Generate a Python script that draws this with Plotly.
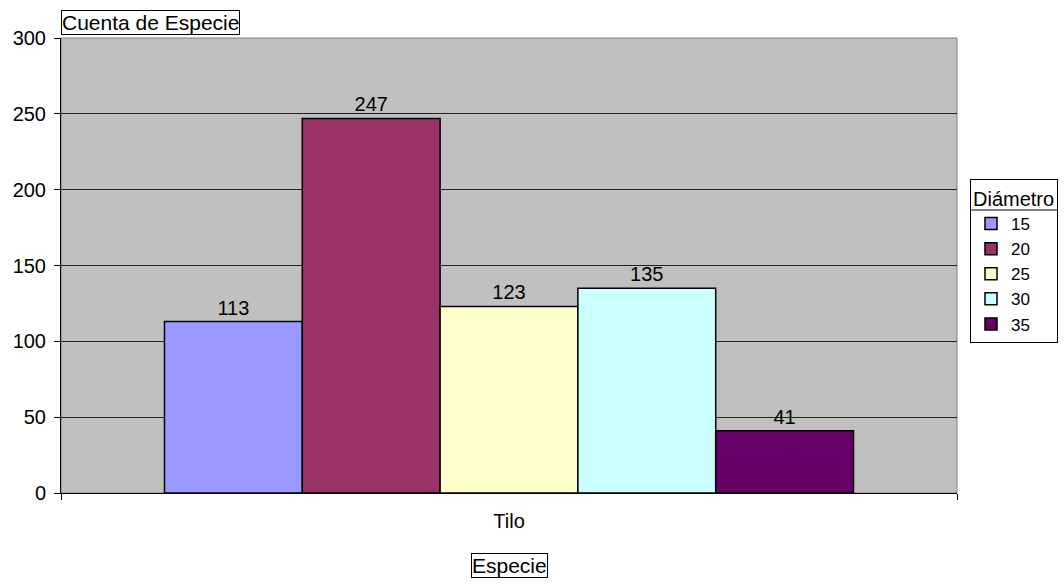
import plotly.graph_objects as go

categories = ["Tilo"]
series_names = ["15", "20", "25", "30", "35"]
series_values = [113, 247, 123, 135, 41]
series_colors = ["#9999FF", "#993366", "#FFFFCC", "#CCFFFF", "#660066"]
y_ticks = [0, 50, 100, 150, 200, 250, 300]

FONT = "Liberation Sans, Arial, sans-serif"

fig = go.Figure()
for name, val, col in zip(series_names, series_values, series_colors):
    fig.add_trace(go.Bar(
        x=categories, y=[val], name=name,
        marker=dict(color=col, line=dict(color="black", width=1.5)),
        text=[str(val)], textposition="outside", cliponaxis=False,
        textfont=dict(family=FONT, size=20, color="black"),
    ))

fig.update_layout(
    width=1064, height=584,
    margin=dict(l=61, r=107, t=38, b=91),
    paper_bgcolor="white", plot_bgcolor="#C0C0C0",
    barmode="group", bargap=0.231, bargroupgap=0,
    font=dict(family=FONT, size=20, color="black"),
    showlegend=True,
    legend=dict(
        title=dict(text="Diámetro", font=dict(size=20)),
        xref="container", yref="container",
        x=970 / 1064, xanchor="left", y=1 - 179 / 584, yanchor="top",
        bordercolor="black", borderwidth=1, bgcolor="rgba(0,0,0,0)",
        font=dict(size=17), tracegroupgap=0, itemclick=False,
    ),
    xaxis=dict(
        showline=True, linecolor="black", linewidth=1,
        ticks="outside", tickson="boundaries", ticklen=6, tickcolor="black",
        showgrid=False, tickfont=dict(size=20), ticklabelstandoff=10,
    ),
    yaxis=dict(
        range=[0, 300], tickvals=y_ticks, showline=True, linecolor="black", linewidth=1,
        ticks="outside", ticklen=6, tickcolor="black",
        showgrid=True, gridcolor="#222222", gridwidth=1, zeroline=False,
        tickfont=dict(size=20), ticklabelstandoff=4,
    ),
    annotations=[
        dict(text="Cuenta de Especie", xref="paper", yref="paper", x=0, y=1,
             xanchor="left", yanchor="bottom", yshift=3, showarrow=False,
             bordercolor="black", borderwidth=1, borderpad=0, bgcolor="white",
             font=dict(size=21)),
        dict(text="Especie", xref="paper", yref="paper", x=0.5, y=0,
             xanchor="center", yanchor="top", yshift=-60, showarrow=False,
             bordercolor="black", borderwidth=1, borderpad=0, bgcolor="white",
             font=dict(size=21)),
    ],
    shapes=[
        dict(type="rect", xref="paper", yref="paper", x0=0, x1=1, y0=0, y1=1,
             line=dict(color="#808080", width=1), layer="below"),
        dict(type="line", xref="paper", yref="paper",
             x0=(970 - 61) / 896, x1=(1057 - 61) / 896,
             y0=(493 - 210) / 455, y1=(493 - 210) / 455,
             line=dict(color="black", width=1)),
    ],
)

fig.write_html("out.html", config={"displayModeBar": False},
               post_script="document.body.style.margin='0';")
